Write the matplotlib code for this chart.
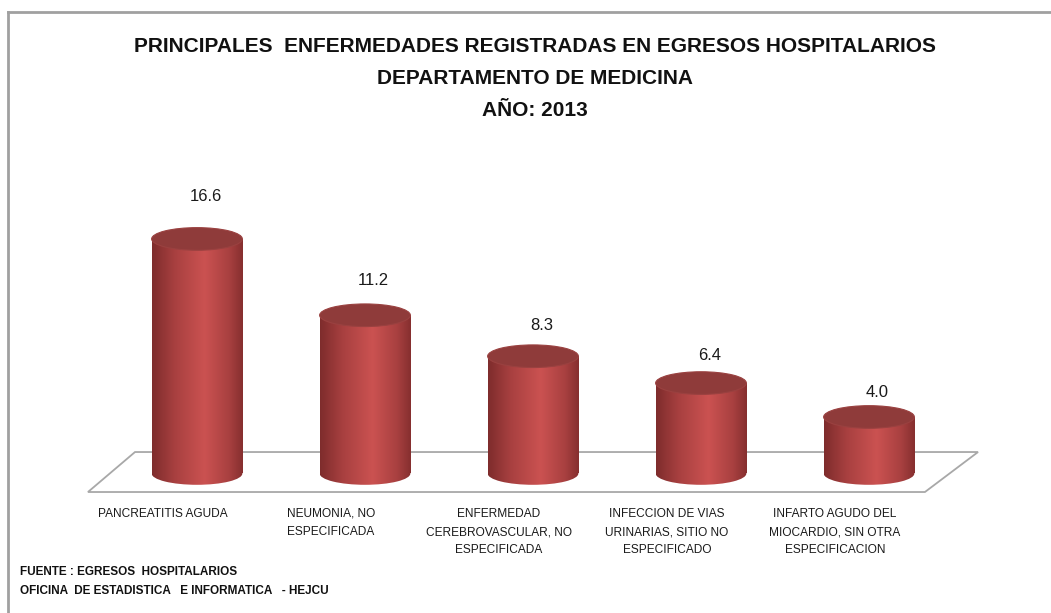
import numpy as np
import matplotlib
matplotlib.use("Agg")
import matplotlib.pyplot as plt
from matplotlib.patches import Ellipse, Polygon
from matplotlib.colors import LinearSegmentedColormap
from matplotlib.transforms import ScaledTranslation
from matplotlib.lines import Line2D

categories = [
    "PANCREATITIS AGUDA",
    "NEUMONIA, NO\nESPECIFICADA",
    "ENFERMEDAD\nCEREBROVASCULAR, NO\nESPECIFICADA",
    "INFECCION DE VIAS\nURINARIAS, SITIO NO\nESPECIFICADO",
    "INFARTO AGUDO DEL\nMIOCARDIO, SIN OTRA\nESPECIFICACION",
]
values = [16.6, 11.2, 8.3, 6.4, 4.0]
value_labels = ["16.6", "11.2", "8.3", "6.4", "4.0"]
title_lines = [
    "PRINCIPALES  ENFERMEDADES REGISTRADAS EN EGRESOS HOSPITALARIOS",
    "DEPARTAMENTO DE MEDICINA",
    "AÑO: 2013",
]
footer_lines = [
    "FUENTE : EGRESOS  HOSPITALARIOS",
    "OFICINA  DE ESTADISTICA   E INFORMATICA   - HEJCU",
]

plt.rcParams['font.family'] = ['Liberation Sans', 'DejaVu Sans']

W, H = 1051, 613
fig = plt.figure(figsize=(W / 100, H / 100), dpi=100)
fig.patch.set_facecolor("white")

# axes geometry (pixels)
px_per_unit = 14.13
zero_px = 473.5
ymin, ymax = -1.5, 20.5
ax_left, ax_width = 113, 840
ax_top = zero_px - ymax * px_per_unit
ax_bot = zero_px - ymin * px_per_unit
ax = fig.add_axes([ax_left / W, (H - ax_bot) / H, ax_width / W, (ax_bot - ax_top) / H])
ax.set_xlim(-0.5, len(values) - 0.5)
ax.set_ylim(ymin, ymax)
ax.axis("off")

n = len(values)
# floor (parallelogram)
floor = Polygon([[-0.369, 1.52], [n - 0.351, 1.52], [n - 0.667, -1.31], [-0.649, -1.31]],
                closed=True, facecolor="white", edgecolor="#a8a8a8", lw=1.3, zorder=1,
                clip_on=False)
ax.add_patch(floor)

bar_w = 0.54
ell_h = 1.6
cmap = LinearSegmentedColormap.from_list(
    "cyl", [(0.0, "#7e2c2c"), (0.25, "#a84040"), (0.58, "#cb5251"), (0.85, "#a84040"), (1.0, "#862f2f")])
grad = np.linspace(0, 1, 256).reshape(1, -1)

bars = ax.bar(range(n), values, width=bar_w, bottom=0, color="none", edgecolor="none", zorder=3)
for i, (b, v) in enumerate(zip(bars, values)):
    x0 = b.get_x()
    im = ax.imshow(grad, cmap=cmap, aspect="auto", extent=(x0, x0 + bar_w, -ell_h, v),
                   zorder=3, interpolation="bilinear")
    im.set_clip_path(b)
    be = Ellipse((i, 0), bar_w, ell_h, facecolor="none", edgecolor="none", zorder=3)
    ax.add_patch(be)
    im2 = ax.imshow(grad, cmap=cmap, aspect="auto", extent=(x0, x0 + bar_w, -ell_h, v),
                    zorder=3, interpolation="bilinear")
    im2.set_clip_path(be)
    te = Ellipse((i, v), bar_w, ell_h, facecolor="#8f3b3a", edgecolor="#9a4140", lw=0.8, zorder=4)
    ax.add_patch(te)
    ax.annotate(value_labels[i], (i + 0.05, v), xytext=(0, (18 + 1.5 * v) * 0.72),
                textcoords="offset points", ha="center", va="center",
                fontsize=12, color="#1a1a1a", zorder=5)

# category labels
off = ax.transData + ScaledTranslation(-0.34, 0, fig.dpi_scale_trans)
for i, c in enumerate(categories):
    ax.text(i, -(508 - zero_px) / px_per_unit, c,
            transform=off, ha="center", va="top", fontsize=8.6, color="#1a1a1a",
            linespacing=1.68, clip_on=False)

# title
for t, y in zip(title_lines, [47, 79, 110]):
    fig.text(535 / W, 1 - y / H, t, ha="center", va="center", fontsize=15,
             fontweight="bold", color="#111111")

# footer
for t, y in zip(footer_lines, [572, 591]):
    fig.text(20 / W, 1 - y / H, t, ha="left", va="center", fontsize=8.5,
             fontweight="bold", color="#111111")

# chart border (top & left)
fig.add_artist(Line2D([8 / W, 1], [1 - 12 / H, 1 - 12 / H], transform=fig.transFigure,
                      color="#a0a0a0", lw=2))
fig.add_artist(Line2D([8 / W, 8 / W], [0, 1 - 12 / H], transform=fig.transFigure,
                      color="#a0a0a0", lw=2))

fig.savefig("out.png", dpi=100, facecolor="white")
